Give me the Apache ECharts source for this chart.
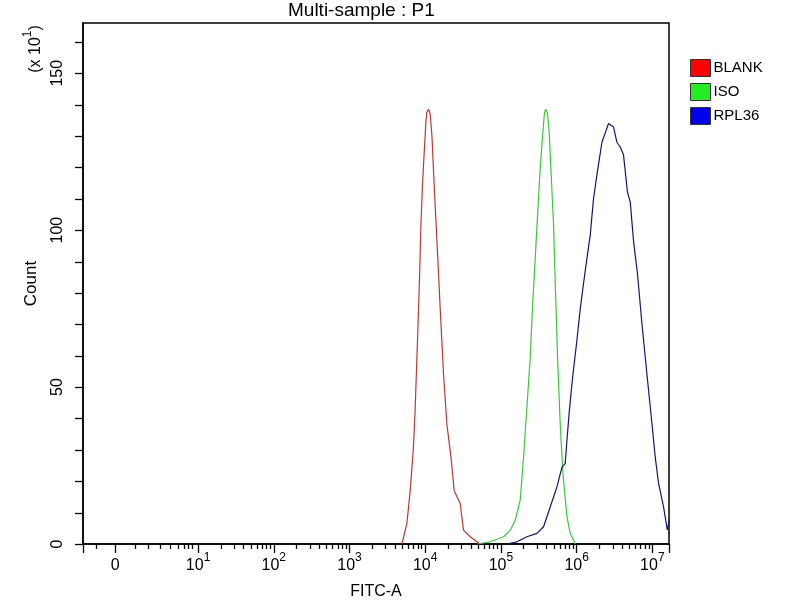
<!DOCTYPE html>
<html>
<head>
<meta charset="utf-8">
<script src="https://cdn.jsdelivr.net/npm/echarts@6/dist/echarts.min.js"></script>
<style>
  html, body { margin: 0; padding: 0; background: #fff; }
  #main { width: 800px; height: 600px; }
</style>
</head>
<body>
<div id="main"></div>
<script>
// x is in display decades (10^k sits at k); 0 sits a bit left of 10^0
var X_MIN = -0.52;
var X_MAX = 7.22;
var ZERO_POS = -0.095;

var decadeLabels = [ZERO_POS, 1, 2, 3, 4, 5, 6, 7];
var majorTicks = [X_MIN, ZERO_POS, 1, 2, 3, 4, 5, 6, 7, X_MAX];
// ticks of the linear part near zero
var lowTicks = [-0.343, 0.169, 0.345, 0.5, 0.632, 0.741, 0.816, 0.873, 0.918];

var Y_MAX = 166;
var yTicks = [0, 10, 20, 30, 40, 50, 60, 70, 80, 90, 100, 110, 120, 130, 140, 150, 160];
var yLabels = [0, 50, 100, 150];

// BLANK
var blankPos = [3.692, 3.758, 3.802, 3.845, 3.868, 3.898, 3.925, 3.943, 3.964, 3.987, 4.009, 4.022, 4.046,
                4.066, 4.089, 4.123, 4.162, 4.198, 4.242, 4.287, 4.340, 4.383, 4.462, 4.506, 4.594, 4.683, 4.727];
var blankCount = [0, 6.6, 17, 31, 43.5, 64.7, 84.8, 101.7, 114.4, 125, 134.5, 137.6, 138.5,
                  137, 130, 112, 93, 75, 54, 38, 27.7, 17, 12.9, 4.4, 2.3, 0.7, 0];

// ISO
var isoPos = [4.687, 4.859, 5.034, 5.123, 5.189, 5.255, 5.299, 5.343, 5.387, 5.417, 5.453, 5.489, 5.519,
              5.550, 5.576, 5.596, 5.616, 5.638, 5.664, 5.695, 5.721, 5.748, 5.783, 5.819, 5.872, 5.915, 5.982];
var isoCount = [0, 0.7, 2.3, 4.4, 7.6, 14, 27.7, 43.5, 59.4, 75.3, 91, 107, 119.7,
                130, 137.6, 138.5, 137, 131, 117.6, 101.7, 80.6, 59.4, 38.3, 22.4, 8.7, 3.4, 0];

// RPL36
var rplPos = [5.079, 5.211, 5.343, 5.476, 5.563, 5.651, 5.740, 5.806, 5.849, 5.872, 5.902, 5.942, 6.004,
              6.048, 6.091, 6.136, 6.180, 6.223, 6.268, 6.334, 6.378, 6.421, 6.450, 6.487, 6.532, 6.576,
              6.619, 6.672, 6.708, 6.752, 6.805, 6.863, 6.929, 6.995, 7.038, 7.083, 7.148, 7.197, 7.223];
var rplCount = [0, 0.7, 2.3, 3.4, 5.5, 11.8, 18.2, 24.5, 25.6, 33, 42, 52, 65,
                75, 83, 91, 98.5, 110, 117.6, 128, 131, 134, 133.5, 132.9, 128, 126.5,
                124, 112, 109, 96.4, 85.8, 70, 54, 38.3, 27.7, 19.2, 11.8, 4.5, 7.6];

function zip(a, b) {
    var out = [];
    for (var i = 0; i < a.length; i++) out.push([a[i], b[i]]);
    return out;
}

// minor ticks: 2..9 times each decade
var minorTicks = lowTicks.slice();
for (var k = 1; k <= 7; k++) {
    for (var m = 2; m <= 9; m++) {
        var p = k + Math.log10(m);
        if (p < X_MAX) minorTicks.push(p);
    }
}

var myChart = echarts.init(document.getElementById('main'));
var font = 'Liberation Sans, Arial, sans-serif';

var unitText = {
    type: 'text',
    id: 'unit',
    x: 33,
    y: 49,
    rotation: Math.PI / 2,
    style: {
        text: '{b|(x 10}{s|1}{b|)}',
        fill: '#000',
        align: 'center',
        verticalAlign: 'middle',
        rich: {
            b: { fontSize: 16, lineHeight: 22, verticalAlign: 'bottom', fontFamily: font, fill: '#000' },
            s: { fontSize: 12, verticalAlign: 'top', fontFamily: font, fill: '#000' }
        }
    }
};

var option = {
    animation: false,
    backgroundColor: '#fff',
    title: {
        text: 'Multi-sample : P1',
        left: 283,
        top: -4,
        textStyle: { fontSize: 19, fontWeight: 'normal', color: '#000', fontFamily: font }
    },
    legend: {
        orient: 'vertical',
        left: 685,
        top: 54,
        itemWidth: 20,
        itemHeight: 17,
        itemGap: 6,
        icon: 'rect',
        itemStyle: { borderColor: '#333', borderWidth: 1 },
        textStyle: { fontSize: 15, color: '#000', fontFamily: font, padding: [0, 0, 0, -2] },
        data: [
            { name: 'BLANK', itemStyle: { color: '#ff0000' } },
            { name: 'ISO', itemStyle: { color: '#22ee22' } },
            { name: 'RPL36', itemStyle: { color: '#0000ee' } }
        ]
    },
    grid: {
        left: 83, right: 131, top: 23, bottom: 56,
        show: true,
        borderColor: '#000',
        borderWidth: 1.5,
        outerBoundsMode: 'none'
    },
    graphic: [unitText],
    xAxis: [{
        type: 'value',
        min: X_MIN,
        max: X_MAX,
        name: 'FITC-A',
        nameLocation: 'middle',
        nameGap: 40,
        nameTextStyle: { fontSize: 16, color: '#000', fontFamily: font },
        splitLine: { show: false },
        axisLine: { show: true, onZero: false, lineStyle: { color: '#000', width: 1.5 } },
        axisTick: { show: true, length: 9, customValues: majorTicks, lineStyle: { color: '#000', width: 1.3 } },
        axisLabel: {
            customValues: decadeLabels,
            margin: 8,
            color: '#000',
            fontFamily: font,
            formatter: function (v) {
                if (v < 0.5) return '{b|0}';
                return '{b|10}{s|' + Math.round(v) + '}';
            },
            rich: {
                b: { fontSize: 16, lineHeight: 22, verticalAlign: 'bottom', color: '#000', fontFamily: font },
                s: { fontSize: 12, verticalAlign: 'top', color: '#000', fontFamily: font }
            }
        }
    }, {
        type: 'value',
        min: X_MIN,
        max: X_MAX,
        position: 'bottom',
        splitLine: { show: false },
        axisLine: { show: false, onZero: false },
        axisLabel: { show: false },
        axisTick: { show: true, length: 5, customValues: minorTicks, lineStyle: { color: '#000', width: 1.3 } }
    }],
    yAxis: {
        type: 'value',
        min: 0,
        max: Y_MAX,
        name: 'Count',
        nameLocation: 'middle',
        nameGap: 43,
        nameRotate: 90,
        nameTextStyle: { fontSize: 17, color: '#000', fontFamily: font },
        splitLine: { show: false },
        axisLine: { show: true, onZero: false, lineStyle: { color: '#000', width: 1.5 } },
        axisTick: { show: false },
        axisLabel: {
            customValues: yLabels,
            rotate: 90,
            margin: 17,
            fontSize: 16,
            color: '#000',
            fontFamily: font
        }
    },
    series: [
        {
            name: 'BLANK', type: 'line', symbol: 'none',
            lineStyle: { width: 1.2, color: '#b83a34' }, itemStyle: { color: '#ff0000' },
            data: zip(blankPos, blankCount)
        },
        {
            name: 'ISO', type: 'line', symbol: 'none',
            lineStyle: { width: 1.2, color: '#3cc63c' }, itemStyle: { color: '#22ee22' },
            data: zip(isoPos, isoCount)
        },
        {
            name: 'RPL36', type: 'line', symbol: 'none',
            lineStyle: { width: 1.2, color: '#14146e' }, itemStyle: { color: '#0000ee' },
            data: zip(rplPos, rplCount)
        }
    ]
};
myChart.setOption(option);

// y ticks: placed through the chart's own y scale, drawn on top
var axisX = myChart.convertToPixel({ xAxisIndex: 0 }, X_MIN);
var tickEls = yTicks.map(function (v, i) {
    var y = Math.round(myChart.convertToPixel({ yAxisIndex: 0 }, v)) + 0.5;
    return {
        type: 'line',
        id: 'ytick' + i,
        z: 100,
        shape: { x1: axisX - 8, y1: y, x2: axisX, y2: y },
        style: { stroke: '#000', lineWidth: 1.3 }
    };
});
myChart.setOption({ graphic: [unitText].concat(tickEls) });
</script>
</body>
</html>
